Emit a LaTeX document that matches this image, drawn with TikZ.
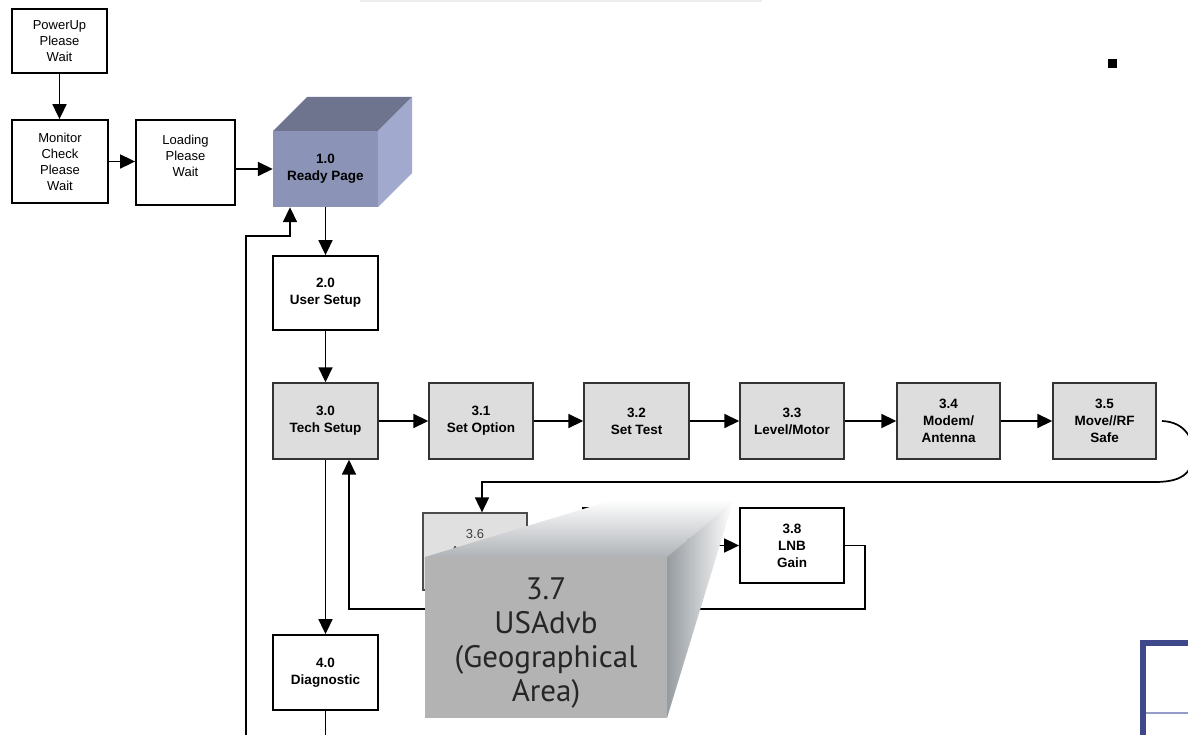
\documentclass[tikz,border=0pt]{standalone}
\usepackage{fontspec}
\setmainfont{Liberation Sans}
\newfontfamily\bigfont{PT Sans}
\usetikzlibrary{arrows.meta}
\definecolor{boxgray}{RGB}{221,221,221}
\definecolor{rpfront}{RGB}{139,147,182}
\definecolor{rptop}{RGB}{110,115,142}
\definecolor{rpside}{RGB}{161,169,206}
\definecolor{bigfront}{RGB}{179,179,179}
\definecolor{bigedge}{RGB}{175,179,183}
\definecolor{framblue}{RGB}{64,72,140}
\definecolor{framlight}{RGB}{150,156,200}
\tikzset{
  wbox/.style={draw=black, line width=1.8pt, fill=white, inner sep=0pt, align=center,
    font=\fontsize{13}{16}\selectfont},
  gbox/.style={draw=black!80, line width=1.4pt, fill=boxgray, inner sep=0pt, align=center,
    font=\fontsize{13.5}{17}\selectfont\bfseries},
  bwbox/.style={wbox, font=\fontsize{13.5}{17}\selectfont\bfseries},
  conn/.style={line width=1.7pt, draw=black},
  arr/.style={conn, -{Triangle[length=15pt,width=14pt]}},
}
\begin{document}
\begin{tikzpicture}[x=1pt,y=-1pt]
\useasboundingbox (0,0) rectangle (1188,735);
\fill[white] (0,0) rectangle (1188,735);
\draw[line width=2pt, black!7] (360,1) -- (762,1);

% simple boxes
\node[wbox, minimum width=95, minimum height=64] (pu) at (59.5,41) {PowerUp\\Please\\Wait};
\node[wbox, minimum width=96, minimum height=83] (mc) at (60,161.5) {Monitor\\Check\\Please\\Wait};
\node[wbox, minimum width=99, minimum height=85] (ld) at (185.5,162.5) {};
\node[font=\fontsize{13}{16}\selectfont, align=center] (ldt) at (185.5,156) {Loading\\Please\\Wait};

% Ready page 3D box
\fill[rptop] (273,131) -- (378,131) -- (412,97) -- (307,97) -- cycle;
\fill[rpside] (378,131) -- (412,97) -- (412,173) -- (378,207) -- cycle;
\node[fill=rpfront, minimum width=105, minimum height=76, inner sep=0pt, align=center,
  font=\fontsize{13.5}{17}\selectfont\bfseries] (rp) at (325.5,169) {1.0\\Ready Page};

\node[bwbox, minimum width=105, minimum height=74] (us) at (325.5,293) {2.0\\User Setup};
\node[gbox, minimum width=105, minimum height=76] (ts) at (325.5,421) {3.0\\Tech Setup};
\node[gbox, minimum width=104, minimum height=76] (s31) at (481,421) {3.1\\Set Option};
\node[gbox, minimum width=105, minimum height=76] (s32) at (636.5,421) {3.2\\Set Test};
\node[gbox, minimum width=104, minimum height=76] (s33) at (792,421) {3.3\\Level/Motor};
\node[gbox, minimum width=103, minimum height=76] (s34) at (948.5,421) {3.4\\Modem/\\Antenna};
\node[gbox, minimum width=103, minimum height=76] (s35) at (1104.5,421) {3.5\\Move//RF\\Safe};
\node[bwbox, minimum width=104, minimum height=75] (s38) at (792,545.5) {3.8\\LNB\\Gain};
\node[bwbox, minimum width=105, minimum height=75] (dg) at (325.5,672.5) {4.0\\Diagnostic};

% connectors
\draw[arr] (pu.south) -- (pu.south |- mc.north);
\draw[arr] (mc.east) -- (mc.east -| ld.west);
\draw[arr] (ld.east |- rp.west) -- (rp.west);
\draw[arr] (rp.south) -- (us.north);
\draw[arr] (us.south) -- (ts.north);
\draw[arr] (ts.east) -- (s31.west);
\draw[arr] (s31.east) -- (s32.west);
\draw[arr] (s32.east) -- (s33.west);
\draw[arr] (s33.east) -- (s34.west);
\draw[arr] (s34.east) -- (s35.west);
\draw[arr] (ts.south) -- (dg.north);
\coordinate (dgend) at (325.5,735);
\draw[conn] (dg.south) -- (dgend);
\coordinate (fbstart) at (246,735);
\coordinate (fbturn) at (290,236);
\draw[arr] (fbstart) |- (fbturn) -- (fbturn |- rp.south);

% 3.6 and hidden 3.7 boxes
\node[draw=black!70, line width=1.2pt, fill=boxgray!90!white, minimum width=104, minimum height=77,
  inner sep=0pt] (s36) at (475,551.5) {};
\node[font=\fontsize{13}{17}\selectfont, align=center, black!75] (s36t) at (475,543) {3.6\\Antenna};
\node[wbox, minimum width=105, minimum height=77] (h37) at (635.5,546.5) {};

% loop from 3.5 to 3.6
\coordinate (lp) at (1162,421);
\coordinate (lq) at (482,482);
\draw[arr] (lp) .. controls (1186,422) and (1193,440) .. (1193,452)
  .. controls (1193,470) and (1186,482) .. (1155,482) -- (lq) -- (lq |- s36.north);
\coordinate (hx) at (716,545.5);
\draw[arr] (hx) -- (hx -| s38.west);
\coordinate (rt1) at (865,545.5);
\coordinate (rt2) at (865,609);
\coordinate (rt3) at (349,609);
\draw[arr] (s38.east) -- (rt1) -- (rt2) -- (rt3) -- (rt3 |- ts.south);

% big 3.7 3D box
\shade[top color=white, bottom color=bigedge] (425,557) -- (667,557) -- (733,502) -- (613,500) -- cycle;
\shade[left color={rgb,255:red,150;green,155;blue,160}, right color=white] (667,557) -- (733,502) -- (667,718) -- cycle;
\node[fill=bigfront, minimum width=242, minimum height=161, inner sep=0pt] (b37) at (546,637.5) {};
\node[align=center, font=\bigfont\fontsize{31}{34}\selectfont, text=black!85] (b37t) at (546,643)
  {3.7\\USAdvb\\(Geographical\\Area)};

% decorations
\fill[black] (1108,59) rectangle (1117,68);
\draw[line width=6pt, framblue] (1143,735) -- (1143,643) -- (1192,643);
\draw[line width=1.5pt, framlight] (1146,713) -- (1190,713);
\end{tikzpicture}
\end{document}
